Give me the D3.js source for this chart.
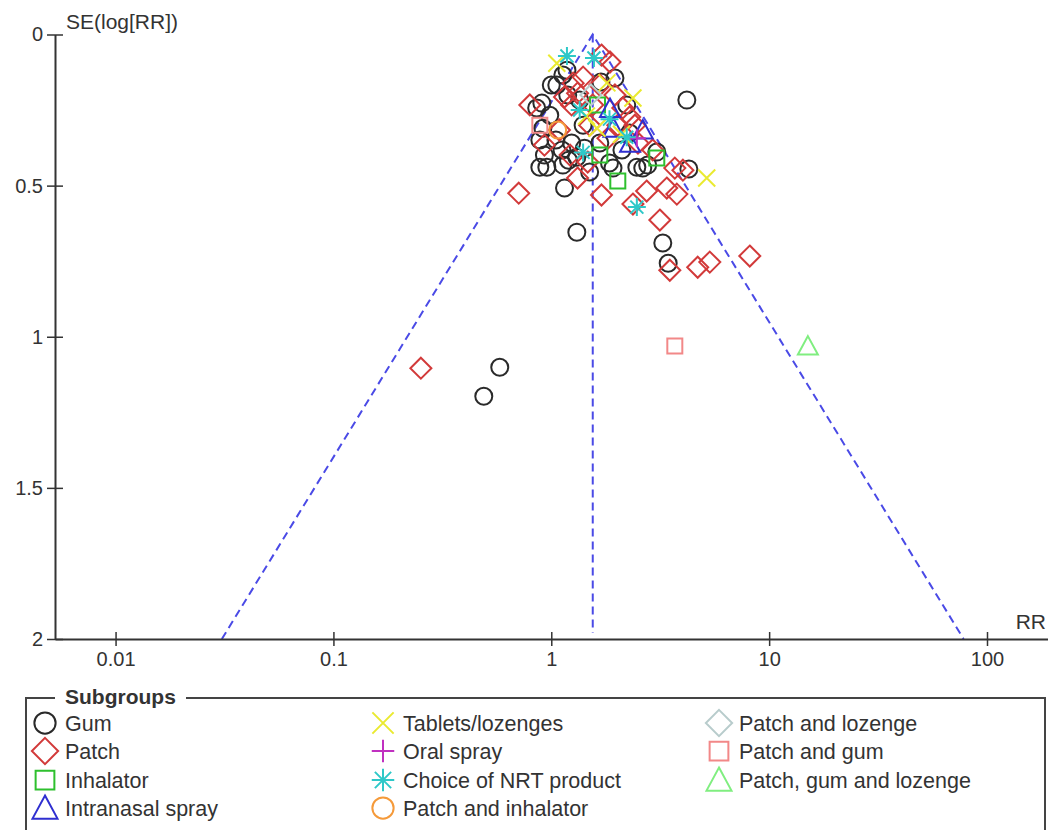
<!DOCTYPE html>
<html>
<head>
<meta charset="utf-8">
<script src="https://cdn.jsdelivr.net/npm/d3@7"></script>
<style>
  body { margin: 0; background: #fff; }
  text { font-family: 'Liberation Sans', Arial, sans-serif; fill: #333; }
</style>
</head>
<body>
<div id="funnel-canvas"></div>
<script>
// study points as [RR, SE(log RR)]
const gumPoints = [
    [4.19, 0.217], [4.28, 0.445], [3.25, 0.690], [3.44, 0.757], [1.31, 0.654], [1.15, 0.508],
    [0.58, 1.101], [0.49, 1.197], [0.886, 0.439], [0.954, 0.439], [1.13, 0.432], [1.20, 0.416],
    [1.31, 0.406], [1.50, 0.455], [1.85, 0.425], [1.92, 0.442], [2.47, 0.439], [2.63, 0.442],
    [2.77, 0.432], [3.05, 0.389], [1.18, 0.118], [1.13, 0.134], [1.00, 0.167], [1.06, 0.167],
    [1.96, 0.144], [1.69, 0.157], [0.905, 0.227], [0.857, 0.243], [1.19, 0.200], [2.22, 0.233],
    [0.915, 0.310], [0.886, 0.349], [1.12, 0.382], [1.24, 0.359], [1.40, 0.300], [2.29, 0.326],
    [0.984, 0.267], [1.42, 0.376], [2.11, 0.382], [1.67, 0.359], [1.05, 0.349], [1.35, 0.217],
    [0.93, 0.399]
]
const patchPoints = [
    [0.252, 1.104], [0.709, 0.525], [8.15, 0.733], [5.34, 0.753], [4.70, 0.770], [3.50, 0.780],
    [3.15, 0.614], [3.39, 0.508], [3.77, 0.528], [3.69, 0.442], [4.02, 0.449], [2.74, 0.518],
    [2.37, 0.561], [1.70, 0.531], [1.32, 0.475], [0.797, 0.233], [1.70, 0.068], [1.86, 0.091],
    [1.67, 0.167], [1.96, 0.200], [2.13, 0.243], [2.29, 0.273], [2.42, 0.300], [1.40, 0.141],
    [1.26, 0.161], [1.15, 0.207], [1.32, 0.194], [1.24, 0.233], [0.93, 0.366], [1.22, 0.399],
    [1.47, 0.422], [1.82, 0.343], [2.50, 0.359], [1.55, 0.233], [2.02, 0.300], [2.92, 0.382],
    [1.50, 0.300], [1.09, 0.316]
]
const inhalatorPoints = [[1.63, 0.233], [1.67, 0.399], [2.02, 0.485], [3.05, 0.409]]
const nasalPoints = [[1.86, 0.245], [2.63, 0.316], [2.30, 0.360], [1.93, 0.310]]
const tabletPoints = [[1.06, 0.095], [5.17, 0.475], [2.37, 0.210], [1.80, 0.160], [1.45, 0.270], [1.62, 0.310], [2.10, 0.330]]
const oralSprayPoints = [[2.47, 0.343]]
const choicePoints = [[1.18, 0.071], [1.57, 0.078], [2.47, 0.571], [1.35, 0.250], [1.40, 0.390], [2.22, 0.340], [1.85, 0.280]]
const patchInhalatorPoints = [[1.07, 0.316]]
const patchLozengePoints = [[1.52, 0.200]]
const patchGumPoints = [[3.69, 1.031], [0.886, 0.300]]
const patchGumLozengePoints = [[15.06, 1.031]]

const pooledRR = 1.55
const xTicks = [0.01, 0.1, 1, 10, 100]
const yTicks = [0, 0.5, 1, 1.5, 2]

const groups = [
    { name: 'Gum', values: gumPoints, shape: 'circle', color: '#2a2a2a', col: 0, row: 0 },
    { name: 'Patch', values: patchPoints, shape: 'diamond', color: '#d23a3a', col: 0, row: 1 },
    { name: 'Inhalator', values: inhalatorPoints, shape: 'square', color: '#2ec02e', col: 0, row: 2 },
    { name: 'Intranasal spray', values: nasalPoints, shape: 'triangle', color: '#2f2fd0', col: 0, row: 3 },
    { name: 'Tablets/lozenges', values: tabletPoints, shape: 'x', color: '#eaea30', col: 1, row: 0 },
    { name: 'Oral spray', values: oralSprayPoints, shape: 'plus', color: '#c030c0', col: 1, row: 1 },
    { name: 'Choice of NRT product', values: choicePoints, shape: 'asterisk', color: '#2ec8c8', col: 1, row: 2 },
    { name: 'Patch and inhalator', values: patchInhalatorPoints, shape: 'circle', color: '#f59a3a', col: 1, row: 3 },
    { name: 'Patch and lozenge', values: patchLozengePoints, shape: 'diamond', color: '#b8cccc', col: 2, row: 0 },
    { name: 'Patch and gum', values: patchGumPoints, shape: 'square', color: '#f28888', col: 2, row: 1 },
    { name: 'Patch, gum and lozenge', values: patchGumLozengePoints, shape: 'triangle', color: '#80ee80', col: 2, row: 2 }
]

const width = 1048, height = 830

const svg = d3.select('#funnel-canvas')
    .append('svg')
    .attr('width', width)
    .attr('height', height)

const x = d3.scaleLog()
    .domain([Math.pow(10, -2.278), Math.pow(10, 2.28)])
    .range([55, 1048])
const y = d3.scaleLinear()
    .domain([0, 2])
    .range([34.5, 639])

// marker shapes, scale k
function shapePath(shape, k) {
    const p = d3.path()
    if (shape === 'circle') {
        p.moveTo(8.5 * k, 0)
        p.arc(0, 0, 8.5 * k, 0, 2 * Math.PI)
    } else if (shape === 'diamond') {
        const s = 10.5 * k
        p.moveTo(0, -s); p.lineTo(s, 0); p.lineTo(0, s); p.lineTo(-s, 0); p.closePath()
    } else if (shape === 'square') {
        const s = 7.5 * k
        p.rect(-s, -s, 2 * s, 2 * s)
    } else if (shape === 'triangle') {
        const s = 10 * k
        p.moveTo(0, -s); p.lineTo(s, 0.85 * s); p.lineTo(-s, 0.85 * s); p.closePath()
    } else if (shape === 'x') {
        const s = 8.5 * k
        p.moveTo(-s, -s); p.lineTo(s, s); p.moveTo(-s, s); p.lineTo(s, -s)
    } else if (shape === 'plus') {
        const s = 9 * k
        p.moveTo(-s, 0); p.lineTo(s, 0); p.moveTo(0, -s); p.lineTo(0, s)
    } else if (shape === 'asterisk') {
        const s = 9 * k, d = 6.5 * k
        p.moveTo(-s, 0); p.lineTo(s, 0); p.moveTo(0, -s); p.lineTo(0, s)
        p.moveTo(-d, -d); p.lineTo(d, d); p.moveTo(-d, d); p.lineTo(d, -d)
    }
    return p.toString()
}

// funnel lines
const z = 1.96
const funnel = [
    [pooledRR * Math.exp(-z * 2), 2],
    [pooledRR, 0],
    [pooledRR * Math.exp(z * 2), 2]
]
svg.append('path')
    .datum(funnel)
    .attr('fill', 'none')
    .attr('stroke', '#4a4ae6')
    .attr('stroke-width', 2)
    .attr('stroke-dasharray', '8,5')
    .attr('d', d3.line().x(d => x(d[0])).y(d => y(d[1])))
svg.append('line')
    .attr('x1', x(pooledRR)).attr('x2', x(pooledRR))
    .attr('y1', y(0)).attr('y2', y(1.98))
    .attr('stroke', '#4a4ae6')
    .attr('stroke-width', 2)
    .attr('stroke-dasharray', '8,5')

// points
groups.forEach(g => {
    svg.append('g')
        .selectAll('path')
        .data(g.values)
        .enter()
        .append('path')
        .attr('transform', d => 'translate(' + x(d[0]) + ',' + y(d[1]) + ')')
        .attr('d', shapePath(g.shape, 1))
        .attr('fill', 'none')
        .attr('stroke', g.color)
        .attr('stroke-width', 2)
})

// axes
const xAxis = svg.append('g')
    .attr('transform', 'translate(0,' + y(2) + ')')
    .call(d3.axisBottom(x).tickValues(xTicks).tickFormat(d3.format('~g')).tickSizeOuter(0))
xAxis.select('.domain').attr('stroke', '#333').attr('stroke-width', 2)
xAxis.selectAll('.tick line').attr('y1', -7).attr('y2', 7).attr('stroke', '#333').attr('stroke-width', 1.5)
xAxis.selectAll('.tick text').attr('y', 27).attr('dy', null)
    .style('font-size', '20px').style('font-family', "'Liberation Sans', Arial, sans-serif").attr('fill', '#333')

const yAxis = svg.append('g')
    .attr('transform', 'translate(55,0)')
    .call(d3.axisLeft(y).tickValues(yTicks).tickFormat(d3.format('~g')).tickSizeOuter(0))
yAxis.select('.domain').attr('stroke', '#333').attr('stroke-width', 2)
yAxis.selectAll('.tick line').attr('x1', -8).attr('x2', 8).attr('stroke', '#333').attr('stroke-width', 1.5)
yAxis.selectAll('.tick text').attr('x', -12)
    .style('font-size', '20px').style('font-family', "'Liberation Sans', Arial, sans-serif").attr('fill', '#333')

svg.append('text')
    .attr('x', 66).attr('y', 29)
    .style('font-size', '21px')
    .text('SE(log[RR])')
svg.append('text')
    .attr('x', 1046).attr('y', 629)
    .attr('text-anchor', 'end')
    .style('font-size', '21px')
    .text('RR')

// legend box
const legend = svg.append('g')
legend.append('path')
    .attr('d', 'M55,698 H26 V845 H1045 V698 H186')
    .attr('fill', 'none')
    .attr('stroke', '#444')
    .attr('stroke-width', 2)
legend.append('text')
    .attr('x', 65).attr('y', 704)
    .style('font-size', '21px')
    .style('font-weight', 'bold')
    .text('Subgroups')

const colX = [45, 383, 719]
const rowY = [723, 751, 780, 808]
const item = legend.selectAll('.item')
    .data(groups)
    .enter()
    .append('g')
    .attr('class', 'item')
    .attr('transform', d => 'translate(' + colX[d.col] + ',' + rowY[d.row] + ')')
item.append('path')
    .attr('d', d => shapePath(d.shape, 1.25))
    .attr('fill', 'none')
    .attr('stroke', d => d.color)
    .attr('stroke-width', 2)
item.append('text')
    .attr('x', 20).attr('y', 8)
    .style('font-size', '21.5px')
    .text(d => d.name)
</script>
</body>
</html>
